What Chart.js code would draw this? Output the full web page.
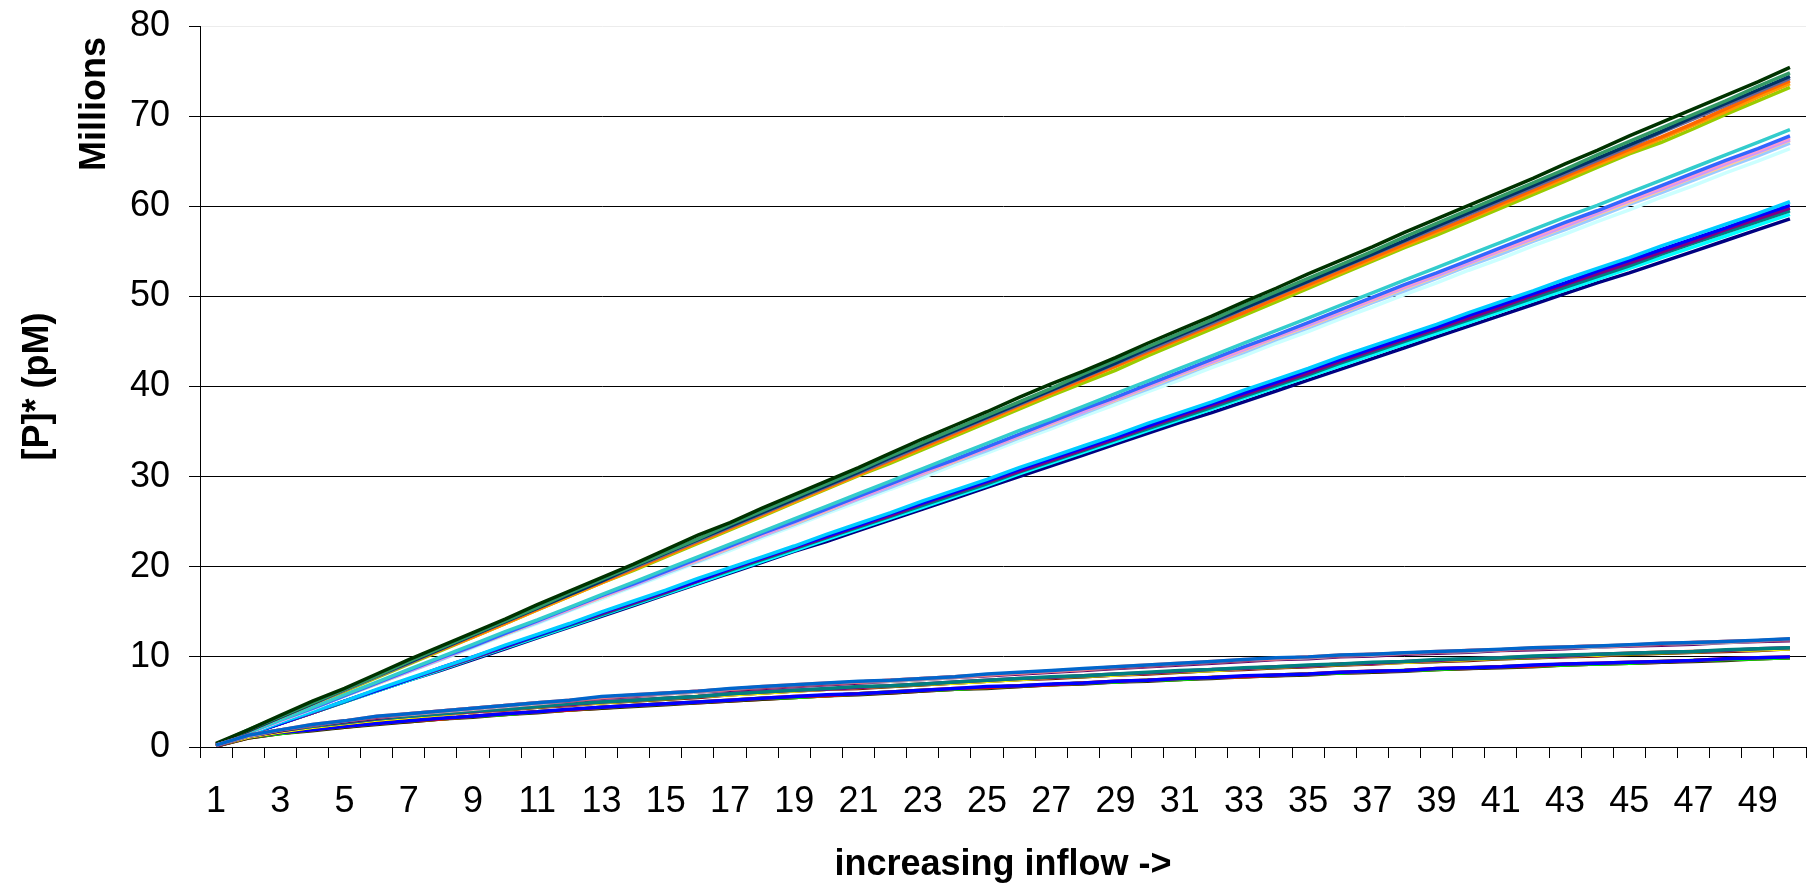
<!DOCTYPE html>
<html>
<head>
<meta charset="utf-8">
<script src="https://cdn.jsdelivr.net/npm/chart.js@4.4.1/dist/chart.umd.min.js"></script>
<style>
  html, body { margin: 0; padding: 0; background: #ffffff; }
  canvas { display: block; }
</style>
</head>
<body>
<canvas id="chart" width="1818" height="890"></canvas>
<script>
// Inflow steps along the x axis
const inflowSteps = [1,2,3,4,5,6,7,8,9,10,11,12,13,14,15,16,17,18,19,20,21,22,23,24,25,26,27,28,29,30,31,32,33,34,35,36,37,38,39,40,41,42,43,44,45,46,47,48,49,50];
// Y axis tick values (millions of pM)
const yTicks = [0,10,20,30,40,50,60,70,80];

// ---- group reaching ~60 million ----
const runA1 = [0.2,1.4,2.6,3.8,5.0,6.2,7.4,8.5,9.7,10.9,12.1,13.3,14.5,15.7,16.9,18.1,19.3,20.5,21.7,22.8,24.0,25.2,26.4,27.6,28.8,30.0,31.2,32.4,33.6,34.8,36.0,37.1,38.3,39.5,40.7,41.9,43.1,44.3,45.5,46.7,47.9,49.1,50.3,51.5,52.6,53.8,55.0,56.2,57.4,58.6];
const runA2 = [0.2,1.4,2.6,3.8,5.0,6.2,7.4,8.6,9.8,11.0,12.2,13.4,14.6,15.8,17.0,18.2,19.4,20.6,21.8,23.0,24.2,25.4,26.6,27.8,29.0,30.3,31.5,32.7,33.9,35.1,36.3,37.5,38.7,39.9,41.1,42.3,43.5,44.7,45.9,47.1,48.3,49.5,50.7,51.9,53.1,54.3,55.5,56.7,57.9,59.1];
const runA3 = [0.2,1.4,2.6,3.8,5.0,6.3,7.5,8.7,9.9,11.1,12.3,13.5,14.7,15.9,17.1,18.4,19.6,20.8,22.0,23.2,24.4,25.6,26.8,28.0,29.2,30.5,31.7,32.9,34.1,35.3,36.5,37.7,38.9,40.1,41.3,42.6,43.8,45.0,46.2,47.4,48.6,49.8,51.0,52.2,53.4,54.7,55.9,57.1,58.3,59.5];
const runA4 = [0.2,1.4,2.6,3.8,5.1,6.3,7.5,8.7,9.9,11.1,12.4,13.6,14.8,16.0,17.2,18.4,19.7,20.9,22.1,23.3,24.5,25.7,27.0,28.2,29.4,30.6,31.8,33.0,34.2,35.5,36.7,37.9,39.1,40.3,41.5,42.8,44.0,45.2,46.4,47.6,48.8,50.1,51.3,52.5,53.7,54.9,56.1,57.4,58.6,59.8];
const runA5 = [0.2,1.4,2.6,3.9,5.1,6.3,7.5,8.8,10.0,11.2,12.4,13.6,14.9,16.1,17.3,18.5,19.8,21.0,22.2,23.4,24.6,25.9,27.1,28.3,29.5,30.8,32.0,33.2,34.4,35.6,36.9,38.1,39.3,40.5,41.8,43.0,44.2,45.4,46.6,47.9,49.1,50.3,51.5,52.8,54.0,55.2,56.4,57.6,58.9,60.1];
const runA6 = [0.2,1.4,2.7,3.9,5.1,6.4,7.6,8.8,10.0,11.3,12.5,13.7,15.0,16.2,17.4,18.7,19.9,21.1,22.3,23.6,24.8,26.0,27.3,28.5,29.7,31.0,32.2,33.4,34.6,35.9,37.1,38.3,39.6,40.8,42.0,43.3,44.5,45.7,46.9,48.2,49.4,50.6,51.9,53.1,54.3,55.6,56.8,58.0,59.2,60.5];

// ---- group reaching ~68 million ----
const runB1 = [0.2,1.5,2.9,4.2,5.6,7.0,8.3,9.7,11.0,12.4,13.7,15.1,16.4,17.8,19.1,20.5,21.8,23.2,24.5,25.9,27.2,28.6,29.9,31.3,32.6,34.0,35.3,36.7,38.0,39.4,40.7,42.1,43.4,44.8,46.1,47.5,48.8,50.2,51.5,52.9,54.2,55.6,56.9,58.3,59.6,61.0,62.3,63.7,65.0,66.4];
const runB2 = [0.2,1.6,2.9,4.3,5.7,7.0,8.4,9.7,11.1,12.5,13.8,15.2,16.6,17.9,19.3,20.6,22.0,23.4,24.7,26.1,27.5,28.8,30.2,31.6,32.9,34.3,35.6,37.0,38.4,39.7,41.1,42.5,43.8,45.2,46.5,47.9,49.3,50.6,52.0,53.4,54.7,56.1,57.4,58.8,60.2,61.5,62.9,64.3,65.6,67.0];
const runB3 = [0.2,1.6,2.9,4.3,5.7,7.0,8.4,9.8,11.2,12.5,13.9,15.3,16.6,18.0,19.4,20.7,22.1,23.5,24.8,26.2,27.6,29.0,30.3,31.7,33.1,34.4,35.8,37.2,38.5,39.9,41.3,42.6,44.0,45.4,46.7,48.1,49.5,50.9,52.2,53.6,55.0,56.3,57.7,59.1,60.4,61.8,63.2,64.5,65.9,67.3];
const runB4 = [0.2,1.6,2.9,4.3,5.7,7.1,8.4,9.8,11.2,12.6,13.9,15.3,16.7,18.0,19.4,20.8,22.2,23.5,24.9,26.3,27.6,29.0,30.4,31.8,33.1,34.5,35.9,37.2,38.6,40.0,41.4,42.7,44.1,45.5,46.8,48.2,49.6,51.0,52.3,53.7,55.1,56.4,57.8,59.2,60.6,61.9,63.3,64.7,66.0,67.4];
const runB5 = [0.2,1.6,3.0,4.3,5.7,7.1,8.5,9.8,11.2,12.6,14.0,15.3,16.7,18.1,19.5,20.8,22.2,23.6,25.0,26.3,27.7,29.1,30.5,31.8,33.2,34.6,36.0,37.4,38.7,40.1,41.5,42.9,44.2,45.6,47.0,48.4,49.7,51.1,52.5,53.9,55.2,56.6,58.0,59.4,60.7,62.1,63.5,64.9,66.2,67.6];
const runB6 = [0.2,1.6,3.0,4.3,5.7,7.1,8.5,9.9,11.2,12.6,14.0,15.4,16.8,18.1,19.5,20.9,22.3,23.7,25.0,26.4,27.8,29.2,30.6,31.9,33.3,34.7,36.1,37.5,38.8,40.2,41.6,43.0,44.4,45.7,47.1,48.5,49.9,51.3,52.6,54.0,55.4,56.8,58.2,59.5,60.9,62.3,63.7,65.1,66.4,67.8];
const runB7 = [0.2,1.6,3.0,4.4,5.8,7.2,8.6,10.0,11.4,12.8,14.1,15.5,16.9,18.3,19.7,21.1,22.5,23.9,25.3,26.7,28.1,29.5,30.9,32.3,33.7,35.1,36.4,37.8,39.2,40.6,42.0,43.4,44.8,46.2,47.6,49.0,50.4,51.8,53.2,54.6,56.0,57.4,58.8,60.1,61.5,62.9,64.3,65.7,67.1,68.5];

// ---- group reaching ~75 million ----
const runC1 = [0.3,1.8,3.3,4.8,6.2,7.7,9.2,10.7,12.2,13.7,15.2,16.7,18.2,19.6,21.1,22.6,24.1,25.6,27.1,28.6,30.1,31.5,33.0,34.5,36.0,37.5,39.0,40.4,41.8,43.4,44.9,46.4,47.9,49.4,50.9,52.4,53.9,55.4,56.8,58.3,59.8,61.3,62.8,64.3,65.8,67.1,68.6,70.2,71.7,73.2];
const runC2 = [0.3,1.8,3.3,4.8,6.3,7.8,9.3,10.8,12.2,13.7,15.2,16.7,18.2,19.7,21.2,22.7,24.2,25.7,27.2,28.7,30.2,31.7,33.2,34.7,36.2,37.7,39.2,40.7,42.2,43.7,45.2,46.7,48.2,49.7,51.1,52.6,54.1,55.6,57.1,58.6,60.1,61.6,63.1,64.6,66.0,67.5,69.0,70.5,72.1,73.6];
const runC3 = [0.3,1.8,3.3,4.8,6.3,7.9,9.3,10.8,12.3,13.8,15.3,16.9,18.3,19.8,21.3,22.8,24.3,25.8,27.4,28.8,30.3,31.8,33.3,34.8,36.3,37.9,39.3,40.8,42.3,43.8,45.3,46.8,48.2,49.8,51.3,52.8,54.3,55.8,57.3,58.7,60.3,61.8,63.3,64.8,66.3,67.7,69.2,70.8,72.4,73.9];
const runC4 = [0.3,1.8,3.3,4.8,6.3,7.8,9.3,10.9,12.4,13.9,15.4,16.9,18.4,19.9,21.4,22.9,24.4,25.9,27.4,28.9,30.4,31.9,33.5,35.0,36.5,38.0,39.5,41.0,42.5,44.0,45.5,47.0,48.6,50.1,51.6,53.1,54.6,56.1,57.6,59.1,60.6,62.1,63.6,65.1,66.6,68.2,69.7,71.2,72.7,74.2];
const runC5 = [0.3,1.8,3.3,4.8,6.4,7.9,9.4,10.9,12.4,13.9,15.4,16.9,18.4,20.0,21.5,23.0,24.5,26.0,27.5,29.0,30.5,32.1,33.6,35.1,36.6,38.1,39.6,41.1,42.6,44.2,45.7,47.2,48.7,50.2,51.7,53.2,54.7,56.2,57.8,59.3,60.8,62.3,63.8,65.3,66.8,68.3,69.9,71.4,72.9,74.4];
const runC6 = [0.3,1.9,3.4,4.9,6.4,7.9,9.5,11.0,12.5,14.0,15.5,17.1,18.6,20.1,21.6,23.1,24.7,26.2,27.7,29.2,30.7,32.3,33.8,35.3,36.8,38.3,39.8,41.4,42.9,44.4,45.9,47.4,49.0,50.5,52.0,53.5,55.0,56.6,58.1,59.6,61.1,62.6,64.1,65.7,67.2,68.7,70.2,71.7,73.3,74.8];
const runC7 = [0.4,1.9,3.5,5.1,6.5,8.1,9.7,11.2,12.7,14.2,15.8,17.3,18.8,20.3,21.9,23.5,24.9,26.5,28.0,29.5,31.0,32.6,34.2,35.7,37.2,38.8,40.3,41.7,43.2,44.8,46.3,47.8,49.4,50.9,52.5,54.0,55.5,57.1,58.6,60.1,61.6,63.1,64.7,66.2,67.8,69.3,70.8,72.3,73.8,75.4];

// ---- low group, lower band (~10 million) ----
const runD1 = [0.1,1.0,1.5,1.9,2.2,2.6,2.8,3.1,3.4,3.6,3.9,4.1,4.3,4.6,4.8,4.9,5.1,5.3,5.5,5.7,5.9,6.0,6.2,6.4,6.6,6.7,6.9,7.1,7.2,7.4,7.5,7.7,7.8,7.9,8.1,8.2,8.3,8.5,8.6,8.7,8.9,9.0,9.1,9.2,9.3,9.4,9.6,9.7,9.8,9.9];
const runD2 = [0.1,1.0,1.5,1.8,2.2,2.5,2.8,3.1,3.3,3.6,3.8,4.1,4.3,4.5,4.7,4.9,5.1,5.3,5.5,5.7,5.8,6.0,6.2,6.4,6.5,6.7,6.9,7.0,7.2,7.3,7.5,7.6,7.8,7.9,8.0,8.2,8.3,8.4,8.6,8.7,8.8,8.9,9.1,9.2,9.3,9.4,9.5,9.6,9.8,9.9];
const runD3 = [0.1,1.1,1.5,1.9,2.3,2.6,2.9,3.1,3.4,3.6,3.9,4.1,4.4,4.6,4.8,5.0,5.2,5.4,5.5,5.7,5.9,6.1,6.3,6.4,6.6,6.8,6.9,7.1,7.2,7.4,7.5,7.7,7.8,8.0,8.1,8.2,8.4,8.5,8.6,8.8,8.9,9.0,9.1,9.2,9.3,9.5,9.6,9.7,9.8,9.9];
const runD4 = [0.1,1.1,1.6,1.9,2.3,2.6,2.9,3.1,3.4,3.7,3.9,4.1,4.4,4.6,4.8,5.0,5.2,5.4,5.6,5.7,5.9,6.1,6.3,6.5,6.6,6.8,6.9,7.1,7.3,7.4,7.6,7.7,7.8,8.0,8.1,8.3,8.4,8.5,8.7,8.8,8.9,9.0,9.2,9.3,9.4,9.5,9.6,9.8,9.9,10.0];
const runD5 = [0.1,1.1,1.6,1.9,2.3,2.6,2.9,3.2,3.4,3.7,3.9,4.2,4.4,4.6,4.8,5.0,5.2,5.4,5.6,5.8,5.9,6.1,6.3,6.5,6.7,6.8,7.0,7.1,7.3,7.4,7.6,7.7,7.9,8.0,8.1,8.3,8.4,8.5,8.7,8.8,8.9,9.1,9.2,9.3,9.4,9.5,9.6,9.8,9.9,10.0];

// ---- low group, middle band (~11 million) ----
const runE1 = [0.1,1.1,1.7,2.2,2.6,3.0,3.3,3.6,3.9,4.1,4.4,4.6,4.9,5.1,5.3,5.5,5.8,6.0,6.2,6.4,6.5,6.7,6.9,7.1,7.3,7.5,7.6,7.8,8.0,8.1,8.3,8.5,8.6,8.8,8.9,9.1,9.2,9.4,9.5,9.6,9.8,9.9,10.0,10.1,10.3,10.4,10.5,10.6,10.7,10.9];
const runE2 = [0.1,1.1,1.7,2.2,2.6,3.0,3.3,3.6,3.9,4.2,4.4,4.7,4.9,5.1,5.3,5.6,5.8,6.0,6.2,6.4,6.6,6.7,6.9,7.1,7.3,7.5,7.7,7.8,8.0,8.2,8.3,8.5,8.7,8.8,9.0,9.1,9.3,9.4,9.5,9.7,9.8,9.9,10.1,10.2,10.3,10.4,10.5,10.7,10.8,10.9];
const runE3 = [0.2,1.1,1.7,2.2,2.6,3.0,3.3,3.6,3.9,4.2,4.5,4.7,4.9,5.2,5.4,5.6,5.8,6.0,6.2,6.4,6.6,6.8,7.0,7.1,7.3,7.5,7.7,7.9,8.0,8.2,8.4,8.5,8.7,8.9,9.0,9.2,9.3,9.4,9.6,9.7,9.9,10.0,10.1,10.2,10.4,10.5,10.6,10.7,10.8,10.9];
const runE4 = [0.2,1.2,1.8,2.3,2.7,3.1,3.4,3.7,3.9,4.2,4.5,4.7,5.0,5.2,5.4,5.6,5.9,6.1,6.3,6.4,6.6,6.8,7.0,7.2,7.4,7.6,7.7,7.9,8.1,8.2,8.4,8.6,8.7,8.9,9.0,9.2,9.3,9.5,9.6,9.8,9.9,10.0,10.1,10.3,10.4,10.5,10.6,10.7,10.9,11.0];
const runE5 = [0.2,1.2,1.8,2.3,2.7,3.1,3.4,3.7,4.0,4.2,4.5,4.8,5.0,5.2,5.4,5.6,5.9,6.1,6.3,6.5,6.7,6.8,7.0,7.2,7.4,7.6,7.8,7.9,8.1,8.3,8.5,8.6,8.8,8.9,9.1,9.2,9.4,9.5,9.7,9.8,9.9,10.1,10.2,10.3,10.4,10.5,10.6,10.8,10.9,11.0];

// ---- low group, upper band (~12 million) ----
const runF1 = [0.1,1.2,1.8,2.4,2.8,3.2,3.6,3.9,4.2,4.5,4.8,5.1,5.4,5.6,5.9,6.1,6.3,6.5,6.7,6.9,7.1,7.3,7.5,7.7,7.9,8.1,8.3,8.5,8.7,8.9,9.1,9.3,9.5,9.7,9.8,10.0,10.1,10.3,10.4,10.5,10.7,10.8,10.9,11.1,11.2,11.3,11.4,11.6,11.7,11.8];
const runF2 = [0.2,1.2,1.9,2.4,2.9,3.3,3.6,3.9,4.2,4.5,4.8,5.1,5.5,5.7,5.9,6.1,6.4,6.6,6.8,7.0,7.2,7.3,7.5,7.7,8.0,8.2,8.4,8.6,8.8,9.0,9.2,9.4,9.6,9.8,9.9,10.1,10.2,10.4,10.5,10.6,10.8,10.9,11.0,11.1,11.3,11.4,11.5,11.6,11.8,11.9];
const runF3 = [0.2,1.3,1.9,2.4,2.9,3.3,3.7,4.0,4.3,4.6,4.9,5.1,5.5,5.7,6.0,6.2,6.4,6.6,6.8,7.0,7.2,7.4,7.6,7.8,8.0,8.2,8.4,8.6,8.8,9.0,9.2,9.4,9.6,9.8,10.0,10.1,10.3,10.4,10.5,10.7,10.8,10.9,11.1,11.2,11.3,11.4,11.6,11.7,11.8,11.9];
const runF4 = [0.2,1.3,1.9,2.5,2.9,3.4,3.7,4.0,4.3,4.6,4.9,5.2,5.5,5.8,6.0,6.2,6.4,6.7,6.9,7.1,7.2,7.4,7.6,7.8,8.0,8.2,8.4,8.6,8.9,9.1,9.3,9.5,9.7,9.8,10.0,10.2,10.3,10.4,10.6,10.7,10.8,11.0,11.1,11.2,11.3,11.5,11.6,11.7,11.8,12.0];
const runF5 = [0.2,1.3,1.9,2.5,2.9,3.4,3.7,4.0,4.3,4.6,4.9,5.2,5.6,5.8,6.0,6.2,6.5,6.7,6.9,7.1,7.3,7.4,7.6,7.8,8.1,8.3,8.5,8.7,8.9,9.1,9.3,9.5,9.7,9.9,10.0,10.2,10.3,10.45,10.6,10.7,10.85,11.0,11.1,11.2,11.35,11.5,11.6,11.7,11.85,12.0];

// Series in plotting order (later entries are painted over earlier ones)
const seriesList = [
  { name: 'Series 1',  color: '#000080', values: runA1 },
  { name: 'Series 2',  color: '#00FFFF', values: runA2 },
  { name: 'Series 3',  color: '#008080', values: runA3 },
  { name: 'Series 4',  color: '#800080', values: runA4 },
  { name: 'Series 5',  color: '#0000FF', values: runA5 },
  { name: 'Series 6',  color: '#00CCFF', values: runA6 },
  { name: 'Series 7',  color: '#CCFFFF', values: runB1 },
  { name: 'Series 8',  color: '#99CCFF', values: runB2 },
  { name: 'Series 9',  color: '#FFCC99', values: runB3 },
  { name: 'Series 10', color: '#CC99FF', values: runB4 },
  { name: 'Series 11', color: '#FF99CC', values: runB5 },
  { name: 'Series 12', color: '#3366FF', values: runB6 },
  { name: 'Series 13', color: '#33CCCC', values: runB7 },
  { name: 'Series 14', color: '#99CC00', values: runC1 },
  { name: 'Series 15', color: '#FF9900', values: runC2 },
  { name: 'Series 16', color: '#FF6600', values: runC3 },
  { name: 'Series 17', color: '#666699', values: runC4 },
  { name: 'Series 18', color: '#003366', values: runC5 },
  { name: 'Series 19', color: '#339966', values: runC6 },
  { name: 'Series 20', color: '#003300', values: runC7 },
  { name: 'Series 21', color: '#993300', values: runD1 },
  { name: 'Series 22', color: '#333300', values: runD2 },
  { name: 'Series 23', color: '#00FF00', values: runD3 },
  { name: 'Series 24', color: '#FF0000', values: runD4 },
  { name: 'Series 25', color: '#0000FF', values: runD5 },
  { name: 'Series 26', color: '#800000', values: runE1 },
  { name: 'Series 27', color: '#808000', values: runE2 },
  { name: 'Series 28', color: '#FFFF00', values: runE3 },
  { name: 'Series 29', color: '#800080', values: runE4 },
  { name: 'Series 30', color: '#008080', values: runE5 },
  { name: 'Series 31', color: '#660066', values: runF1 },
  { name: 'Series 32', color: '#C0C0C0', values: runF2 },
  { name: 'Series 33', color: '#993366', values: runF3 },
  { name: 'Series 34', color: '#FF8080', values: runF4 },
  { name: 'Series 35', color: '#0066CC', values: runF5 }
];

const FONT = '"Liberation Sans", Arial, Helvetica, sans-serif';

// Chart.js paints the first dataset on top, so feed them in reverse
const datasets = seriesList.slice().reverse().map(s => ({
  label: s.name,
  data: s.values,
  borderColor: s.color,
  backgroundColor: s.color,
  borderWidth: 3.5,
  pointRadius: 0,
  pointHoverRadius: 0,
  tension: 0,
  fill: false
}));

// Unit caption above the y axis title
const unitsCaption = {
  id: 'unitsCaption',
  afterDraw(chart) {
    const ctx = chart.ctx;
    ctx.save();
    ctx.translate(95.5, 104);
    ctx.rotate(-Math.PI / 2);
    ctx.font = 'bold 36px ' + FONT;
    ctx.fillStyle = '#000000';
    ctx.textAlign = 'center';
    ctx.textBaseline = 'middle';
    ctx.fillText('Millions', 0, 0);
    ctx.restore();
  }
};

new Chart(document.getElementById('chart'), {
  type: 'line',
  data: { labels: inflowSteps, datasets },
  plugins: [unitsCaption],
  options: {
    responsive: false,
    animation: false,
    devicePixelRatio: 1,
    layout: { padding: { top: 26, right: 12, bottom: 0, left: 0 } },
    plugins: {
      legend: { display: false },
      tooltip: { enabled: false }
    },
    scales: {
      x: {
        type: 'category',
        offset: true,
        afterFit: (scale) => {
          scale.height = 143;
          scale.paddingLeft = 0;
          scale.paddingRight = 0;
        },
        grid: {
          offset: true,
          drawOnChartArea: false,
          drawTicks: true,
          tickLength: 11,
          color: '#000000',
          lineWidth: 1
        },
        border: { display: true, color: '#000000', width: 1 },
        ticks: {
          autoSkip: false,
          maxRotation: 0,
          minRotation: 0,
          padding: 22,
          color: '#000000',
          font: { family: FONT, size: 36 },
          callback: (value, index) => (index % 2 === 0 ? String(inflowSteps[index]) : '')
        },
        title: {
          display: true,
          text: 'increasing inflow ->',
          color: '#000000',
          font: { family: FONT, size: 36, weight: 'bold' },
          padding: { top: 0, bottom: 3 }
        }
      },
      y: {
        min: yTicks[0],
        max: yTicks[yTicks.length - 1],
        afterFit: (scale) => {
          scale.width = 200;
          scale.paddingTop = 0;
          scale.paddingBottom = 0;
        },
        afterBuildTicks: (scale) => { scale.ticks = yTicks.map(v => ({ value: v })); },
        grid: {
          drawTicks: true,
          tickLength: 11,
          lineWidth: 1,
          color: (ctx) => (ctx.tick && ctx.tick.value === 80 ? '#ececec' : '#000000'),
          tickColor: '#000000'
        },
        border: { display: true, color: '#000000', width: 1 },
        ticks: {
          padding: 19,
          color: '#000000',
          font: { family: FONT, size: 36 }
        },
        title: {
          display: true,
          text: '[P]* (pM)',
          color: '#000000',
          font: { family: FONT, size: 36, weight: 'bold' },
          padding: { top: 16, bottom: 0 }
        }
      }
    }
  }
});
</script>
</body>
</html>
